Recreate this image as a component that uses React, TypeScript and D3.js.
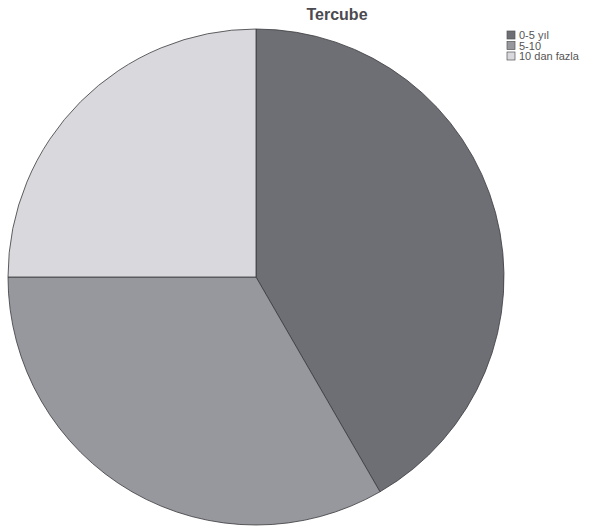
import React from "react";
import * as d3 from "d3";

const categories = ["0-5 yıl", "5-10", "10 dan fazla"];
const values = [20, 16, 12];
const colors = ["#6e6f75", "#97989e", "#d9d9dd"];
const title = "Tercube";

export default function App() {
  const width = 591;
  const height = 532;
  const cx = 256;
  const cy = 277;
  const r = 248;
  const pie = d3.pie<number>().sort(null).value((d) => d);
  const arcs = pie(values);
  const arc = d3.arc<d3.PieArcDatum<number>>().innerRadius(0).outerRadius(r);
  return (
    <svg
      width={width}
      height={height}
      style={{ position: "absolute", left: 0, top: 0, background: "#fff" }}
    >
      <text
        x={337}
        y={20}
        textAnchor="middle"
        fontFamily="Liberation Sans, Arial, sans-serif"
        fontWeight="bold"
        fontSize={16}
        fill="#4a4a50"
      >
        {title}
      </text>
      <g transform={`translate(${cx},${cy})`}>
        {arcs.map((a, i) => (
          <path key={i} d={arc(a) || ""} fill={colors[i]} stroke="#3a3a3e" strokeWidth={0.8} />
        ))}
      </g>
      <g fontFamily="Liberation Sans, Arial, sans-serif" fontSize={11} fill="#555">
        {categories.map((c, i) => (
          <g key={i} transform={`translate(507,${31 + i * 10.5})`}>
            <rect x={0} y={0} width={8} height={8} fill={colors[i]} stroke="#555" strokeWidth={0.7} />
            <text x={12} y={8}>{c}</text>
          </g>
        ))}
      </g>
    </svg>
  );
}
